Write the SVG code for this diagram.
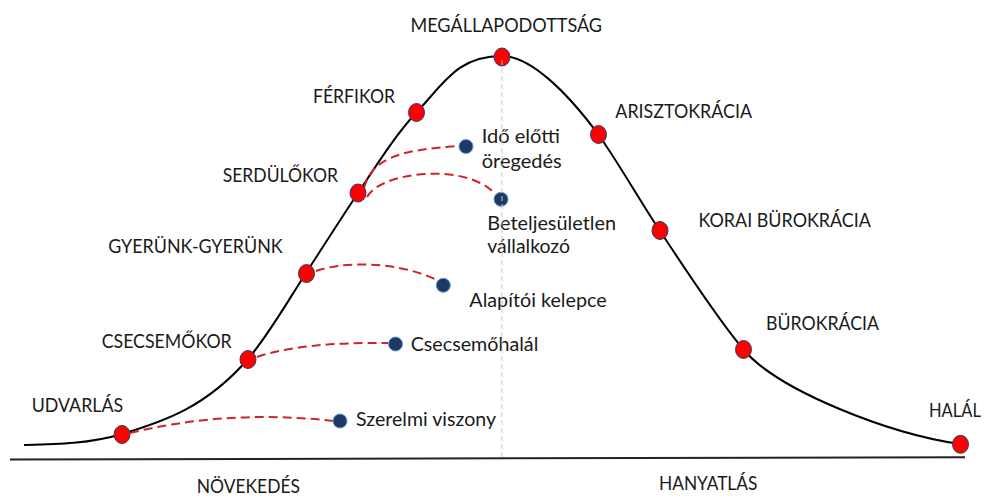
<svg xmlns="http://www.w3.org/2000/svg" width="987" height="496" viewBox="0 0 987 496">
<style>
.lbl{font-family:Lato,"Liberation Sans",Arial,sans-serif;font-size:18.5px;fill:#1a1a1a}
.stage{fill:#ff0000;stroke:#2f3b6b;stroke-width:1}
.out{fill:#1f3864;stroke:#5b9bd5;stroke-width:1}
.trap{fill:none;stroke:#d0232a;stroke-width:2;stroke-dasharray:9 5}
.curve{fill:none;stroke:#000;stroke-width:2}
</style>
<rect width="987" height="496" fill="#ffffff"/>
<g id="axis">
<line x1="10" y1="459.5" x2="965" y2="457.3" stroke="#222" stroke-width="2"/>
</g>
<g id="lifecycle-curve">
<path class="curve" d="M24,445 C56.7,444.3 89.3,443.8 122,434 C164,421.4 206,407.3 248,359 C267.3,336.8 286.7,302.9 306,273 C323.3,246.2 340.7,219 358,193 C377.3,164 396.7,133.3 416,113 C445,82 458,56 502,56 C530,56 566,91 598,134 C618.7,163 639.3,200 660,231 C687.7,272.5 715.3,315.8 743,349 C778,391 890,434 960,444"/>
</g>
<g id="connectors">
<path class="trap" d="M130,433 Q228,409 333,421"/>
<path class="trap" d="M257,357 Q300,342 388,343"/>
<path class="trap" d="M316,271 C340,262 395,260 437,280"/>
<path class="trap" d="M364,188 C372,158 400,150 458,146"/>
<path class="trap" d="M367,197 C380,172 465,162 494,193"/>
</g>
<g id="node-udvarlas"><ellipse class="stage" cx="122" cy="434.5" rx="8" ry="9"/><text class="lbl" x="31.7" y="412" textLength="91.6" lengthAdjust="spacingAndGlyphs">UDVARLÁS</text></g>
<g id="node-csecsemokor"><ellipse class="stage" cx="248" cy="359.5" rx="8" ry="9"/><text class="lbl" x="101.7" y="347.5" textLength="130" lengthAdjust="spacingAndGlyphs">CSECSEMŐKOR</text></g>
<g id="node-gyerunk"><ellipse class="stage" cx="306.5" cy="273.5" rx="8" ry="9"/><text class="lbl" x="108.3" y="252.7" textLength="174.4" lengthAdjust="spacingAndGlyphs">GYERÜNK-GYERÜNK</text></g>
<g id="node-serdulokor"><ellipse class="stage" cx="358" cy="193" rx="8" ry="9"/><text class="lbl" x="222.7" y="181.7" textLength="115.3" lengthAdjust="spacingAndGlyphs">SERDÜLŐKOR</text></g>
<g id="node-ferfikor"><ellipse class="stage" cx="416.5" cy="112.5" rx="8" ry="9"/><text class="lbl" x="313" y="103" textLength="82" lengthAdjust="spacingAndGlyphs">FÉRFIKOR</text></g>
<g id="node-megallapodottsag"><ellipse class="stage" cx="502" cy="57" rx="8" ry="9"/><text class="lbl" x="410.5" y="31.7" textLength="191.5" lengthAdjust="spacingAndGlyphs">MEGÁLLAPODOTTSÁG</text></g>
<g id="node-arisztokracia"><ellipse class="stage" cx="598.5" cy="134.5" rx="8" ry="9"/><text class="lbl" x="615.3" y="118.3" textLength="136.7" lengthAdjust="spacingAndGlyphs">ARISZTOKRÁCIA</text></g>
<g id="node-korai-burokracia"><ellipse class="stage" cx="660" cy="230.5" rx="8" ry="9"/><text class="lbl" x="698.4" y="227.3" textLength="172.6" lengthAdjust="spacingAndGlyphs">KORAI BÜROKRÁCIA</text></g>
<g id="node-burokracia"><ellipse class="stage" cx="743.5" cy="349.5" rx="8" ry="9"/><text class="lbl" x="766" y="330" textLength="113" lengthAdjust="spacingAndGlyphs">BÜROKRÁCIA</text></g>
<g id="node-halal"><ellipse class="stage" cx="960.5" cy="444.3" rx="8" ry="9"/><text class="lbl" x="929" y="416.7" textLength="52" lengthAdjust="spacingAndGlyphs">HALÁL</text></g>
<g id="node-szerelmi-viszony"><circle class="out" cx="340" cy="421" r="7"/><text class="lbl" x="356" y="426" textLength="140" lengthAdjust="spacingAndGlyphs">Szerelmi viszony</text></g>
<g id="node-csecsemohalal"><circle class="out" cx="395.5" cy="344" r="7"/><text class="lbl" x="410.7" y="350.7" textLength="127.6" lengthAdjust="spacingAndGlyphs">Csecsemőhalál</text></g>
<g id="node-alapitoi-kelepce"><circle class="out" cx="443.3" cy="285.3" r="7"/><text class="lbl" x="469.3" y="307.3" textLength="137.4" lengthAdjust="spacingAndGlyphs">Alapítói kelepce</text></g>
<g id="node-ido-elotti-oregedes"><circle class="out" cx="466" cy="146.5" r="7"/><text class="lbl" x="481.7" y="142.7" textLength="78.3" lengthAdjust="spacingAndGlyphs">Idő előtti</text><text class="lbl" x="481.7" y="168" textLength="80" lengthAdjust="spacingAndGlyphs">öregedés</text></g>
<g id="node-beteljesuletlen-vallalkozo"><circle class="out" cx="501" cy="199.3" r="7"/><text class="lbl" x="487.3" y="230" textLength="128.7" lengthAdjust="spacingAndGlyphs">Beteljesületlen</text><text class="lbl" x="487.3" y="253.3" textLength="82.7" lengthAdjust="spacingAndGlyphs">vállalkozó</text></g>
<g id="divider">
<line x1="502" y1="60" x2="502" y2="458" stroke="#c8c8c8" stroke-width="1" stroke-dasharray="5 3"/>
</g>
<g id="phase-labels">
<text class="lbl" x="196.7" y="493" textLength="103.3" lengthAdjust="spacingAndGlyphs">NÖVEKEDÉS</text>
<text class="lbl" x="659" y="490" textLength="98.3" lengthAdjust="spacingAndGlyphs">HANYATLÁS</text>
</g>
</svg>
